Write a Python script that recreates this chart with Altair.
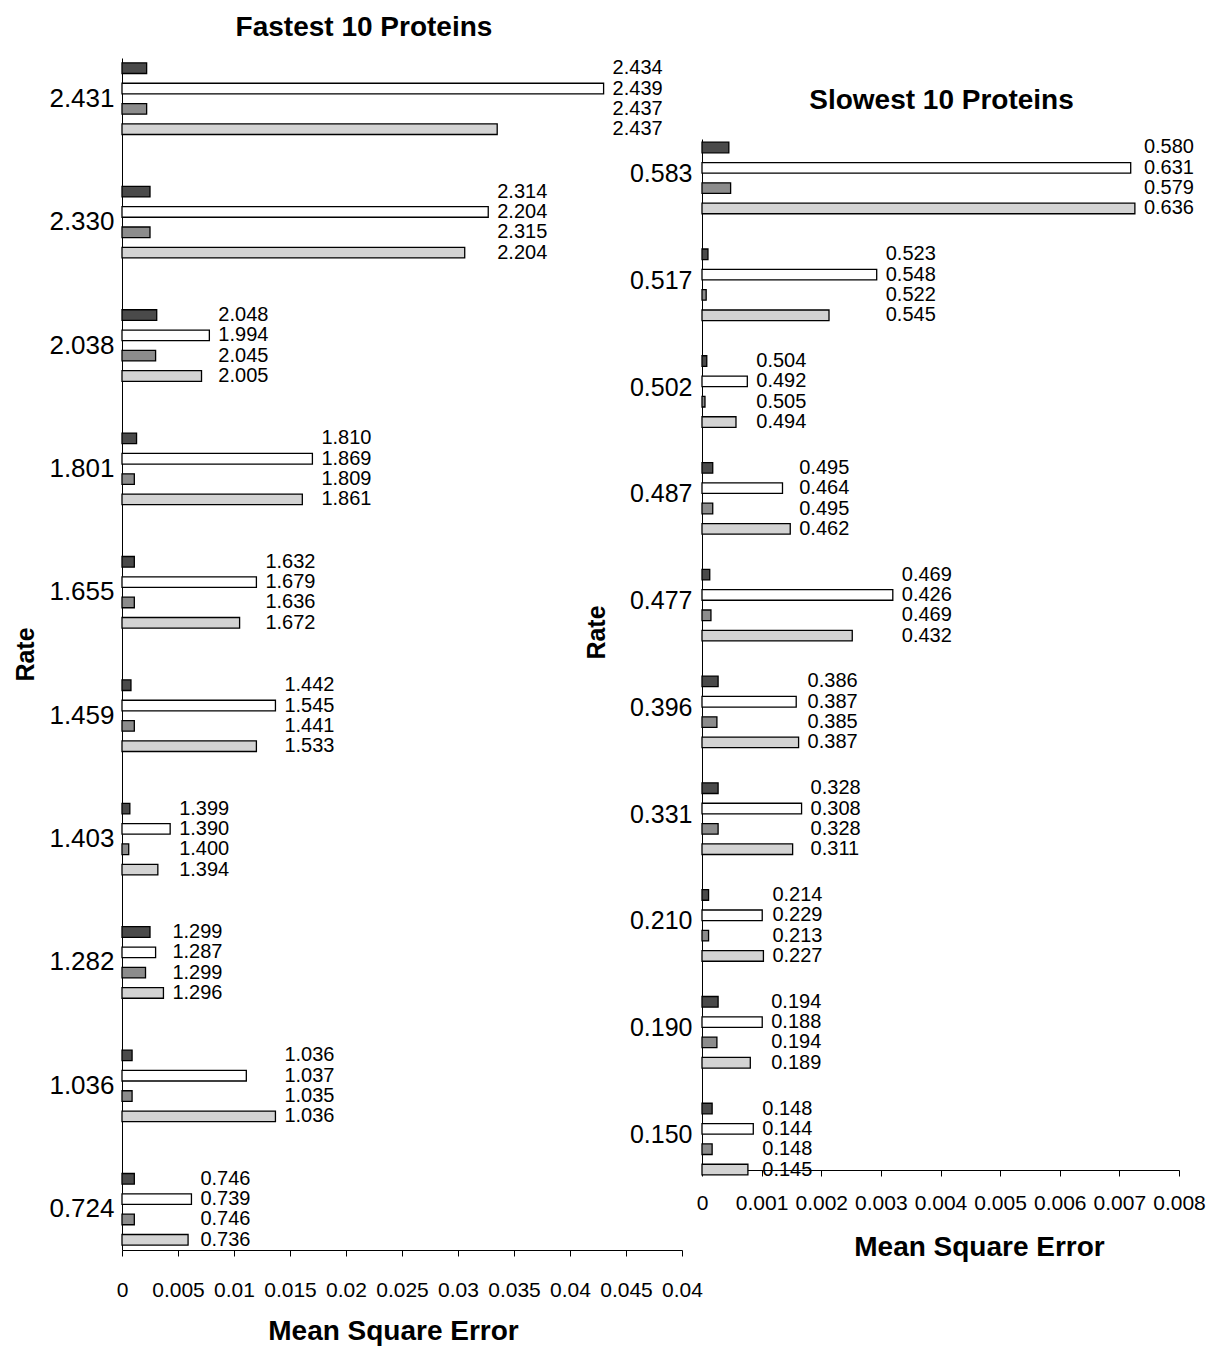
import altair as alt
import pandas as pd

FONT = "Liberation Sans"

series = ["S1", "S2", "S3", "S4"]
series_colors = ["#4a4a4a", "#ffffff", "#8c8c8c", "#d3d3d3"]

# ---------- Fastest 10 proteins ----------
fast_rates = ["2.431", "2.330", "2.038", "1.801", "1.655", "1.459", "1.403", "1.282", "1.036", "0.724"]
fast_s1 = [0.0022, 0.0025, 0.0031, 0.0013, 0.0011, 0.0008, 0.0007, 0.0025, 0.0009, 0.0011]
fast_s2 = [0.0430, 0.0327, 0.0078, 0.0170, 0.0120, 0.0137, 0.0043, 0.0030, 0.0111, 0.0062]
fast_s3 = [0.0022, 0.0025, 0.0030, 0.0011, 0.0011, 0.0011, 0.0006, 0.0021, 0.0009, 0.0011]
fast_s4 = [0.0335, 0.0306, 0.0071, 0.0161, 0.0105, 0.0120, 0.0032, 0.0037, 0.0137, 0.0059]
fast_labels = [
    ["2.434", "2.439", "2.437", "2.437"],
    ["2.314", "2.204", "2.315", "2.204"],
    ["2.048", "1.994", "2.045", "2.005"],
    ["1.810", "1.869", "1.809", "1.861"],
    ["1.632", "1.679", "1.636", "1.672"],
    ["1.442", "1.545", "1.441", "1.533"],
    ["1.399", "1.390", "1.400", "1.394"],
    ["1.299", "1.287", "1.299", "1.296"],
    ["1.036", "1.037", "1.035", "1.036"],
    ["0.746", "0.739", "0.746", "0.736"],
]
fast_ticks = [0, 0.005, 0.01, 0.015, 0.02, 0.025, 0.03, 0.035, 0.04, 0.045, 0.05]
fast_tick_labels = ["0", "0.005", "0.01", "0.015", "0.02", "0.025", "0.03", "0.035", "0.04", "0.045", "0.04"]

# ---------- Slowest 10 proteins ----------
slow_rates = ["0.583", "0.517", "0.502", "0.487", "0.477", "0.396", "0.331", "0.210", "0.190", "0.150"]
slow_s1 = [0.00045, 0.00010, 0.00008, 0.00018, 0.00013, 0.00027, 0.00027, 0.00011, 0.00027, 0.00017]
slow_s2 = [0.00719, 0.00293, 0.00076, 0.00135, 0.00320, 0.00158, 0.00167, 0.00101, 0.00101, 0.00086]
slow_s3 = [0.00048, 0.00007, 0.00005, 0.00018, 0.00015, 0.00025, 0.00027, 0.00011, 0.00025, 0.00017]
slow_s4 = [0.00726, 0.00213, 0.00057, 0.00148, 0.00252, 0.00162, 0.00152, 0.00103, 0.00081, 0.00077]
slow_labels = [
    ["0.580", "0.631", "0.579", "0.636"],
    ["0.523", "0.548", "0.522", "0.545"],
    ["0.504", "0.492", "0.505", "0.494"],
    ["0.495", "0.464", "0.495", "0.462"],
    ["0.469", "0.426", "0.469", "0.432"],
    ["0.386", "0.387", "0.385", "0.387"],
    ["0.328", "0.308", "0.328", "0.311"],
    ["0.214", "0.229", "0.213", "0.227"],
    ["0.194", "0.188", "0.194", "0.189"],
    ["0.148", "0.144", "0.148", "0.145"],
]
slow_ticks = [0, 0.001, 0.002, 0.003, 0.004, 0.005, 0.006, 0.007, 0.008]
slow_tick_labels = ["0", "0.001", "0.002", "0.003", "0.004", "0.005", "0.006", "0.007", "0.008"]


def make_df(rates, vals, labels):
    rows = []
    for i, r in enumerate(rates):
        for j, s in enumerate(series):
            rows.append({"rate": r, "series": s, "mse": vals[j][i], "lbl": labels[i][j]})
    return pd.DataFrame(rows)


def panel(df, rates, ticks, tick_labels, step, title, width, height,
          y_pad_inner, y_pad_outer, off_pad, title_dx, title_offset, x_label_pad, x_title_pad,
          x_title_x, y_title_pad, y_label_pad, y_label_size, x_label_size, y_title_y=None):
    lbl_expr = "[" + ",".join("'%s'" % t for t in tick_labels) + "][round(datum.value / %s)]" % step
    x_axis = alt.Axis(
        values=ticks, labelExpr=lbl_expr, title="Mean Square Error", grid=False,
        labelFontSize=x_label_size, titleFontSize=28, titleFontWeight="bold",
        tickSize=6, labelPadding=x_label_pad, titlePadding=x_title_pad,
        titleX=x_title_x, labelFlush=False, labelOverlap=False,
    )
    y_axis_kw = dict(
        title="Rate", labelFontSize=y_label_size, titleFontSize=25, titleFontWeight="bold",
        ticks=False, grid=False, labelPadding=y_label_pad, titlePadding=y_title_pad,
    )
    if y_title_y is not None:
        y_axis_kw["titleY"] = y_title_y
    base = alt.Chart(df).encode(
        y=alt.Y("rate:N", sort=rates,
                scale=alt.Scale(paddingInner=y_pad_inner, paddingOuter=y_pad_outer),
                axis=alt.Axis(**y_axis_kw)),
        yOffset=alt.YOffset("series:N", sort=series,
                            scale=alt.Scale(paddingInner=off_pad, paddingOuter=0)),
    )
    xscale = alt.Scale(domain=[ticks[0], ticks[-1]], nice=False, zero=True)
    bars = base.mark_bar(stroke="black", strokeWidth=1.3).encode(
        x=alt.X("mse:Q", scale=xscale, axis=x_axis),
        fill=alt.Fill("series:N", scale=alt.Scale(domain=series, range=series_colors), legend=None),
    )
    texts = base.transform_joinaggregate(
        gmax="max(mse)", groupby=["rate"]
    ).mark_text(align="left", baseline="middle", dx=9, fontSize=20, font=FONT, color="black").encode(
        x=alt.X("gmax:Q", scale=xscale, axis=x_axis),
        text="lbl:N",
    )
    return alt.layer(bars, texts).properties(
        width=width, height=height,
        title=alt.TitleParams(title, fontSize=28, fontWeight="bold", font=FONT,
                              anchor="middle", dx=title_dx, offset=title_offset, color="black"),
    )


fast_df = make_df(fast_rates, [fast_s1, fast_s2, fast_s3, fast_s4], fast_labels)
slow_df = make_df(slow_rates, [slow_s1, slow_s2, slow_s3, slow_s4], slow_labels)

left = panel(fast_df, fast_rates, fast_ticks, fast_tick_labels, 0.005, "Fastest 10 Proteins",
             560, 1192, 0.42, 0.04, 0.48, -38, 16, 23, 17, 271, 10, 8, 26, 21)
right = panel(slow_df, slow_rates, slow_ticks, slow_tick_labels, 0.001, "Slowest 10 Proteins",
              477, 1031, 0.405, 0.03, 0.48, 1, 22, 16, 20, 277, 20, 10, 25, 21, 493)

spacer = alt.Chart(pd.DataFrame({"v": [0]})).mark_point(opacity=0).encode(
    x=alt.X("v:Q", axis=None), y=alt.Y("v:Q", axis=None)
).properties(width=477, height=71)

right_col = alt.vconcat(spacer, right, spacing=10, bounds="flush")

chart = alt.hconcat(left, right_col, spacing=20, bounds="flush").configure_view(
    stroke="transparent"
).configure_axis(
    grid=False, domainColor="black", tickColor="black", labelColor="black",
    titleColor="black", labelFont=FONT, titleFont=FONT, domainWidth=1,
)

chart.save("out.html", embed_options={"renderer": "svg", "actions": False})
